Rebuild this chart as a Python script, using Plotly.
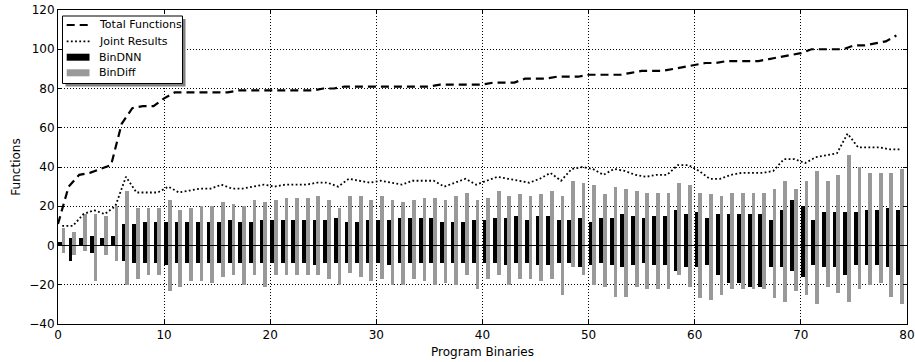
import plotly.graph_objects as go

# ---------------- data ----------------
total_functions = [11, 30, 36, 37, 39, 41, 62, 70, 71, 71,
                   75, 78, 78, 78, 78, 78, 78, 79, 79, 79,
                   79, 79, 79, 79, 79, 80, 80, 81, 81, 81,
                   81, 81, 81, 81, 81, 81, 82, 82, 82, 82,
                   82, 83, 83, 83, 85, 85, 85, 86, 86, 86,
                   87, 87, 87, 87, 88, 89, 89, 89, 90, 91,
                   92, 93, 93, 94, 94, 94, 94, 95, 96, 97,
                   98, 100, 100, 100, 100, 102, 102, 103, 104, 107]

joint_results = [10, 10, 16, 18, 16, 20, 35, 27, 27, 27,
                 30, 27, 28, 29, 29, 31, 29, 29, 30, 31,
                 30, 31, 31, 31, 32, 32, 30, 34, 33, 32,
                 33, 32, 31, 33, 33, 33, 30, 32, 34, 31,
                 33, 35, 34, 33, 32, 34, 37, 33, 39, 40,
                 39, 36, 39, 38, 36, 35, 36, 36, 41, 41,
                 38, 34, 34, 36, 37, 37, 37, 38, 44, 44,
                 42, 45, 46, 47, 57, 50, 50, 50, 49, 49]

bindnn_pos = [2, 4, 4, 5, 4, 5, 11, 11, 12, 12,
              12, 12, 12, 12, 12, 12, 13, 12, 12, 13,
              13, 13, 13, 13, 13, 13, 14, 12, 12, 13,
              13, 13, 14, 14, 14, 14, 12, 12, 12, 13,
              13, 14, 14, 15, 13, 15, 15, 13, 13, 14,
              12, 14, 14, 16, 15, 14, 15, 15, 18, 16,
              17, 14, 16, 16, 16, 16, 16, 13, 18, 23,
              20, 13, 17, 17, 17, 17, 18, 18, 19, 18]

bindnn_neg = [0, -8, 0, -4, 0, 0, -8, -9, -9, -9,
              -10, -9, -9, -9, -9, -9, -9, -9, -9, -9,
              -9, -9, -9, -9, -10, -9, -9, -9, -9, -9,
              -9, -10, -9, -9, -9, -9, -9, -9, -9, -9,
              -9, -9, -10, -9, -9, -10, -10, -9, -9, -11,
              -10, -9, -10, -11, -10, -9, -10, -10, -13, -11,
              -11, -10, -15, -19, -19, -21, -21, -11, -11, -13,
              -16, -10, -11, -11, -15, -10, -10, -10, -11, -15]

bindiff_pos = [9, 7, 16, 16, 15, 20, 28, 19, 19, 19,
               23, 18, 19, 20, 20, 22, 21, 20, 23, 22,
               23, 24, 24, 24, 25, 23, 19, 25, 25, 23,
               25, 23, 22, 23, 24, 24, 23, 25, 27, 23,
               24, 28, 25, 26, 25, 26, 28, 25, 33, 32,
               31, 26, 30, 29, 28, 27, 27, 27, 32, 31,
               27, 26, 25, 27, 27, 27, 27, 29, 33, 29,
               33, 38, 33, 36, 46, 40, 37, 37, 37, 39]

bindiff_neg = [-4, -5, -3, -18, -5, -8, -20, -17, -15, -15,
               -23, -21, -18, -18, -19, -16, -15, -20, -15, -21,
               -15, -15, -15, -15, -15, -17, -20, -14, -16, -18,
               -17, -20, -20, -17, -18, -20, -19, -20, -15, -22,
               -17, -15, -20, -17, -17, -18, -17, -25, -11, -15,
               -20, -21, -26, -26, -21, -22, -22, -22, -15, -21,
               -27, -28, -25, -22, -22, -22, -22, -27, -29, -23,
               -25, -30, -21, -24, -29, -22, -20, -19, -26, -30]

series_names = ["Total Functions", "Joint Results", "BinDNN", "BinDiff"]
x_ticks = [0, 10, 20, 30, 40, 50, 60, 70, 80]
y_ticks = [-40, -20, 0, 20, 40, 60, 80, 100, 120]

# ---------------- styling / geometry ----------------
W, H = 915, 362
ML, MR, MT, MB = 58, 8, 10, 38
BAR_W = 0.35
LINE_OFFSET = 0.4
BLACK = "#000000"
GREY = "#999999"
FONT = "DejaVu Sans"
DOT = "1.8px,2.4px"

n = len(total_functions)
idx = list(range(n))
x_dnn = [i + BAR_W / 2 for i in idx]
x_diff = [i + BAR_W * 1.5 for i in idx]
x_joint = [i + LINE_OFFSET for i in idx]

fig = go.Figure()

for xs, vals, col in [(x_dnn, bindnn_pos, BLACK), (x_dnn, bindnn_neg, BLACK),
                      (x_diff, bindiff_pos, GREY), (x_diff, bindiff_neg, GREY)]:
    fig.add_trace(go.Bar(x=xs, y=vals, width=BAR_W, marker=dict(color=col, line=dict(width=0)),
                         showlegend=False, hoverinfo="x+y"))

fig.add_trace(go.Scatter(x=idx, y=total_functions, mode="lines", name=series_names[0],
                         line=dict(color=BLACK, width=2.2, dash="8px,5px"), showlegend=False))
fig.add_trace(go.Scatter(x=x_joint, y=joint_results, mode="lines", name=series_names[1],
                         line=dict(color=BLACK, width=1.8, dash=DOT), showlegend=False))

# zero line
fig.add_shape(type="line", xref="paper", yref="y", x0=0, x1=1, y0=0, y1=0,
              line=dict(color=BLACK, width=1))

# ---------------- manual legend (pixel -> paper helpers) ----------------
PW, PH = W - ML - MR, H - MT - MB


def px(xp):
    return (xp - ML) / PW


def py(yp):
    return (H - MB - yp) / PH


lx0, lx1, ly0, ly1 = 62.5, 182.5, 16, 83.5
fig.add_shape(type="rect", xref="paper", yref="paper", x0=px(lx0 + 3), x1=px(lx1 + 3),
              y0=py(ly1 + 3), y1=py(ly0 + 3), fillcolor="#808080", line=dict(width=0))
fig.add_shape(type="rect", xref="paper", yref="paper", x0=px(lx0), x1=px(lx1),
              y0=py(ly1), y1=py(ly0), fillcolor="white", line=dict(color=BLACK, width=1))

rows = [25, 41.3, 57.2, 72.8]
sx0, sx1 = 66.7, 89.5
fig.add_shape(type="line", xref="paper", yref="paper", x0=px(sx0), x1=px(sx1),
              y0=py(rows[0]), y1=py(rows[0]), line=dict(color=BLACK, width=2.2, dash="8px,5px"))
fig.add_shape(type="line", xref="paper", yref="paper", x0=px(sx0), x1=px(sx1),
              y0=py(rows[1]), y1=py(rows[1]), line=dict(color=BLACK, width=1.8, dash=DOT))
fig.add_shape(type="rect", xref="paper", yref="paper", x0=px(sx0), x1=px(sx1),
              y0=py(rows[2] + 3.5), y1=py(rows[2] - 3.5), fillcolor=BLACK, line=dict(width=0))
fig.add_shape(type="rect", xref="paper", yref="paper", x0=px(sx0), x1=px(sx1),
              y0=py(rows[3] + 3.5), y1=py(rows[3] - 3.5), fillcolor=GREY, line=dict(width=0))
for name, r in zip(series_names, rows):
    fig.add_annotation(text=name, xref="paper", yref="paper", x=px(97), y=py(r),
                       xanchor="left", yanchor="middle", showarrow=False,
                       font=dict(family=FONT, size=11, color=BLACK))

axis_common = dict(showline=True, linecolor=BLACK, linewidth=1, mirror="ticks",
                   ticks="inside", ticklen=4, tickcolor=BLACK, showgrid=True,
                   gridcolor=BLACK, gridwidth=1, griddash="1px,2px", zeroline=False,
                   tickfont=dict(family=FONT, size=12, color=BLACK))

fig.update_xaxes(range=[0, 80], tickvals=x_ticks, ticktext=[str(v) for v in x_ticks],
                 title=dict(text="Program Binaries", font=dict(family=FONT, size=12, color=BLACK),
                            standoff=6), **axis_common)
fig.update_yaxes(range=[-40, 120], tickvals=y_ticks,
                 ticktext=[str(v).replace("-", "\u2212") for v in y_ticks],
                 title=dict(text="Functions", font=dict(family=FONT, size=12, color=BLACK),
                            standoff=6), **axis_common)

fig.update_layout(width=W, height=H, margin=dict(l=ML, r=MR, t=MT, b=MB, autoexpand=False),
                  barmode="overlay", bargap=0, plot_bgcolor="white", paper_bgcolor="white",
                  showlegend=False, font=dict(family=FONT, size=12, color=BLACK))

fig.write_html("out.html", config={"displayModeBar": False},
               post_script="document.body.style.margin='0';document.body.style.overflow='hidden';")
